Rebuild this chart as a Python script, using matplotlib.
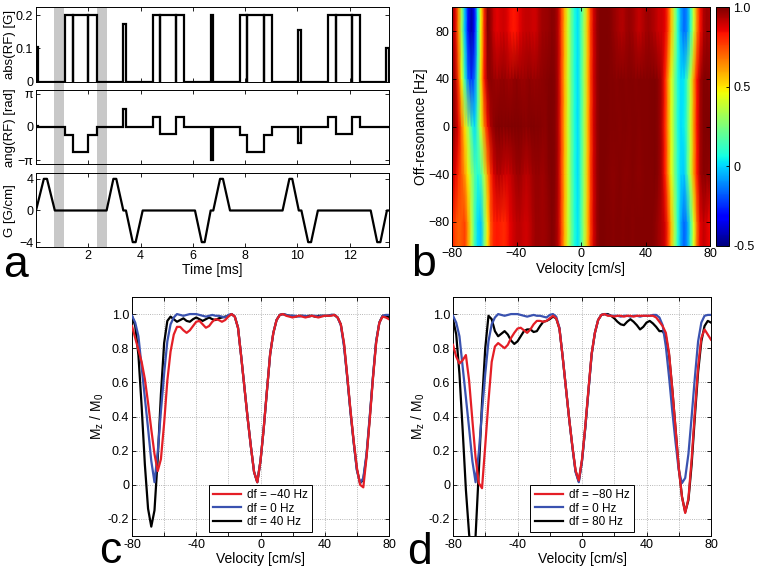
import numpy as np
import matplotlib.pyplot as plt
from matplotlib.patches import Rectangle
from matplotlib.transforms import blended_transform_factory

plt.rcParams['font.family'] = ['Liberation Sans', 'DejaVu Sans']
plt.rcParams['mathtext.default'] = 'regular'

# panel a: RF pulses (ms, G, phase in units of pi) and gradient breakpoints
rf_start = [0.00, 1.12, 1.40, 2.00, 3.34, 4.46, 4.74, 5.34, 6.68, 7.80, 8.08, 8.72,
            10.03, 11.18, 11.47, 12.07, 13.40]
rf_end = [0.06, 1.40, 2.00, 2.32, 3.44, 4.74, 5.34, 5.66, 6.78, 8.08, 8.72, 9.04,
          10.13, 11.47, 12.07, 12.39, 13.50]
rf_amp = [0.105, 0.2, 0.202, 0.2, 0.175, 0.2, 0.202, 0.2, 0.2, 0.2, 0.202, 0.2,
          0.157, 0.2, 0.202, 0.2, 0.10]
rf_phase = [0.03, -0.24, -0.75, -0.24, 0.55, 0.31, -0.22, 0.31, -1.0, -0.24, -0.75, -0.24,
            -0.47, 0.31, -0.22, 0.31, 0.0]
grad_t = [0.0, 0.30, 0.42, 0.72, 2.70, 2.96, 3.07, 3.34, 3.44, 3.70, 3.81, 4.08,
          6.08, 6.34, 6.45, 6.68, 6.78, 7.04, 7.15, 7.42, 9.43, 9.69, 9.80, 10.05,
          10.15, 10.41, 10.52, 10.78, 12.80, 13.05, 13.17, 13.42, 13.50]
grad_g = [0, 4, 4, 0, 0, 4, 4, 0, 0, -4, -4, 0, 0, -4, -4, 0, 0, 4, 4, 0, 0, 4, 4, 0,
          0, -4, -4, 0, 0, -4, -4, 0, 0]
bands = [(0.70, 1.07), (2.35, 2.72)]
t_end = 13.5

# panels b-d: Mz/M0 versus velocity for several off-resonances
vel = [-80, -78, -76, -74, -72, -70, -68, -66, -64, -62,
       -60, -58, -56, -54, -52, -50, -48, -46, -44, -42,
       -40, -38, -36, -34, -32, -30, -28, -26, -24, -22,
       -20, -18, -16, -14, -12, -10, -8, -6, -4, -2,
       0, 2, 4, 6, 8, 10, 12, 14, 16, 18,
       20, 22, 24, 26, 28, 30, 32, 34, 36, 38,
       40, 42, 44, 46, 48, 50, 52, 54, 56, 58,
       60, 62, 64, 66, 68, 70, 72, 74, 76, 78, 80]

mz_0 = [0.99, 0.95, 0.87, 0.69, 0.51, 0.33, 0.14, 0.015, 0.19, 0.43,
        0.65, 0.84, 0.94, 0.98, 1.0, 0.995, 0.99, 0.995, 1.0, 1.0,
        1.0, 0.995, 0.99, 0.985, 0.99, 0.995, 0.99, 0.99, 0.985, 0.98,
        0.995, 1.0, 0.985, 0.92, 0.75, 0.57, 0.39, 0.225, 0.075, 0.015,
        0.14, 0.33, 0.55, 0.765, 0.89, 0.965, 0.995, 1.0, 0.995, 0.99,
        0.99, 0.99, 0.985, 0.99, 0.99, 0.985, 0.99, 0.99, 0.985, 0.99,
        0.99, 0.99, 0.995, 0.995, 0.98, 0.935, 0.81, 0.63, 0.43, 0.25,
        0.085, 0.01, 0.04, 0.18, 0.40, 0.63, 0.84, 0.95, 0.99, 0.995, 0.995]

mz_p40 = [0.99, 0.93, 0.76, 0.46, 0.12, -0.14, -0.245, -0.15, 0.15, 0.53,
          0.83, 0.96, 0.985, 0.97, 0.955, 0.965, 0.975, 0.96, 0.955, 0.97,
          0.98, 0.97, 0.96, 0.97, 0.98, 0.97, 0.965, 0.975, 0.98, 0.985,
          0.99, 1.0, 0.985, 0.92, 0.75, 0.57, 0.39, 0.225, 0.075, 0.015,
          0.14, 0.33, 0.55, 0.765, 0.89, 0.965, 0.995, 1.0, 0.995, 0.99,
          0.99, 0.985, 0.99, 0.99, 0.985, 0.99, 0.99, 0.985, 0.99, 0.99,
          0.99, 0.99, 0.995, 0.995, 0.98, 0.94, 0.82, 0.63, 0.43, 0.25,
          0.09, 0.01, 0.03, 0.17, 0.39, 0.63, 0.84, 0.95, 0.99, 0.99, 0.98]

mz_m40 = [0.93, 0.86, 0.79, 0.72, 0.62, 0.48, 0.325, 0.18, 0.08, 0.15,
          0.36, 0.61, 0.78, 0.88, 0.925, 0.925, 0.905, 0.89, 0.905, 0.93,
          0.955, 0.96, 0.94, 0.92, 0.93, 0.955, 0.97, 0.965, 0.955, 0.965,
          0.985, 1.0, 0.985, 0.92, 0.75, 0.57, 0.39, 0.225, 0.075, 0.015,
          0.14, 0.33, 0.55, 0.765, 0.89, 0.965, 0.995, 1.0, 0.99, 0.985,
          0.98, 0.985, 0.99, 0.985, 0.98, 0.985, 0.99, 0.985, 0.98, 0.985,
          0.99, 0.99, 0.99, 0.995, 0.98, 0.94, 0.83, 0.64, 0.44, 0.26,
          0.10, 0.0, -0.015, 0.16, 0.38, 0.62, 0.83, 0.95, 0.985, 0.98, 0.97]

mz_m80 = [0.82, 0.75, 0.71, 0.73, 0.76, 0.61, 0.38, 0.16, 0.01, -0.02,
          0.23, 0.49, 0.72, 0.81, 0.83, 0.815, 0.80, 0.82, 0.86, 0.89,
          0.915, 0.92, 0.905, 0.89, 0.91, 0.94, 0.96, 0.96, 0.955, 0.96,
          0.975, 0.99, 0.975, 0.915, 0.75, 0.57, 0.39, 0.23, 0.085, 0.025,
          0.15, 0.34, 0.56, 0.77, 0.89, 0.965, 0.995, 1.0, 0.99, 0.99,
          0.985, 0.99, 0.99, 0.985, 0.99, 0.99, 0.985, 0.99, 0.99, 0.99,
          0.99, 0.99, 0.99, 0.98, 0.955, 0.93, 0.89, 0.77, 0.56, 0.33,
          0.10, -0.07, -0.165, -0.08, 0.15, 0.43, 0.69, 0.86, 0.91, 0.88, 0.85]

mz_p80 = [0.97, 0.88, 0.65, 0.32, -0.03, -0.29, -0.45, -0.30, 0.08, 0.48,
          0.80, 0.99, 0.97, 0.90, 0.87, 0.885, 0.90, 0.88, 0.845, 0.825,
          0.84, 0.87, 0.90, 0.91, 0.91, 0.895, 0.90, 0.93, 0.955, 0.96,
          0.97, 0.985, 0.975, 0.915, 0.75, 0.57, 0.39, 0.225, 0.08, 0.02,
          0.14, 0.33, 0.55, 0.765, 0.89, 0.965, 0.995, 1.0, 1.0, 0.99,
          0.975, 0.955, 0.94, 0.935, 0.955, 0.97, 0.955, 0.935, 0.91, 0.925,
          0.95, 0.96, 0.945, 0.925, 0.90, 0.90, 0.87, 0.76, 0.56, 0.33,
          0.10, -0.07, -0.16, -0.09, 0.12, 0.40, 0.66, 0.84, 0.93, 0.96, 0.95]

# rows of the off-resonance map (edge rows repeat the +/-80 Hz profiles)
map_df = [-100, -80, -40, 0, 40, 80, 100]
map_rows = [mz_m80, mz_m80, mz_m40, mz_0, mz_p40, mz_p80, mz_p80]

c_labels = ['df = \u221240 Hz', 'df = 0 Hz', 'df = 40 Hz']
d_labels = ['df = \u221280 Hz', 'df = 0 Hz', 'df = 80 Hz']

RED, BLUE, BLACK = '#e41e26', '#3a52b0', 'black'
W, H = 762, 568
TICK, LAB = 9, 10


def box(l, t, r, b):
    return [l / W, 1 - b / H, (r - l) / W, (b - t) / H]


def style(ax):
    ax.tick_params(direction='in', top=True, right=True, length=3, width=0.6,
                   labelsize=TICK, pad=2)
    for s in ax.spines.values():
        s.set_linewidth(0.7)


def amp_path():
    t, y = [0.0], [0.0]
    for s, e, a in zip(rf_start, rf_end, rf_amp):
        t += [s, s, e, e]
        y += [0, a, a, 0]
    t.append(t_end)
    y.append(0)
    return t, y


def phase_path():
    t, y = [0.0], [0.0]
    prev = None
    for s, e, p in zip(rf_start, rf_end, rf_phase):
        p = p * np.pi
        if prev is not None and abs(s - prev) < 1e-9:
            t.pop(); y.pop()
            t += [s, e, e]
            y += [p, p, 0]
        else:
            t += [s, s, e, e]
            y += [0, p, p, 0]
        prev = e
    t.append(t_end)
    y.append(0)
    return t, y


fig = plt.figure(figsize=(W / 100, H / 100), dpi=100)

# ---- panel a ----
ax1 = fig.add_axes(box(36, 7.3, 389, 81.7), facecolor='none')
ax2 = fig.add_axes(box(36, 90, 389, 164.3), facecolor='none')
ax3 = fig.add_axes(box(36, 173.3, 389, 247.3), facecolor='none')

t, y = amp_path()
ax1.plot(t, y, color='k', lw=1.6, solid_joinstyle='miter')
ax1.set_ylim(0, 0.224)
ax1.set_yticks([0, 0.1, 0.2], ['0', '0.1', '0.2'])
ax1.set_ylabel('abs(RF) [G]', fontsize=9.5)

t, y = phase_path()
ax2.plot(t, y, color='k', lw=1.6, solid_joinstyle='miter')
ax2.set_ylim(-3.55, 3.52)
ax2.set_yticks([-np.pi, 0, np.pi], ['\u2212\u03c0', '0', '\u03c0'])
ax2.set_ylabel('ang(RF) [rad]', fontsize=9.5)

ax3.plot(grad_t, grad_g, color='k', lw=1.6)
ax3.set_ylim(-4.65, 4.7)
ax3.set_yticks([-4, 0, 4], ['\u22124', '0', '4'])
ax3.set_ylabel('G [G/cm]', fontsize=9.5)
ax3.set_xlabel('Time [ms]', fontsize=LAB, labelpad=1)

for ax in (ax1, ax2, ax3):
    ax.set_xlim(0, t_end)
    ax.set_xticks([2, 4, 6, 8, 10, 12])
    style(ax)
    ax.yaxis.set_label_coords(-0.058, 0.5)
    if ax is not ax3:
        ax.tick_params(labelbottom=False)

# grey bands across the three traces
y0 = 1 - 247.3 / H
hgt = (247.3 - 7.3) / H
trans = blended_transform_factory(ax1.transData, fig.transFigure)
for b0, b1 in bands:
    fig.add_artist(Rectangle((b0, y0), b1 - b0, hgt, transform=trans,
                             facecolor='#c8c8c8', edgecolor='none', zorder=-1))

# ---- panel b ----
axb = fig.add_axes(box(452, 7.3, 710, 245.7))
pcm = axb.pcolormesh(vel, map_df, np.array(map_rows), shading='gouraud',
                     cmap='jet', vmin=-0.5, vmax=1.0)
axb.set_xlim(-80, 80)
axb.set_ylim(-100, 100)
axb.set_xticks([-80, -40, 0, 40, 80])
axb.set_yticks([-80, -40, 0, 40, 80])
axb.set_xlabel('Velocity [cm/s]', fontsize=LAB, labelpad=1)
axb.set_ylabel('Off-resonance [Hz]', fontsize=LAB, labelpad=0)
style(axb)

cax = fig.add_axes(box(716, 7.3, 729, 245.7))
cb = fig.colorbar(pcm, cax=cax, ticks=[-0.5, 0, 0.5, 1.0])
cb.ax.set_yticklabels(['-0.5', '0', '0.5', '1.0'])
cb.ax.tick_params(direction='in', length=2, width=0.6, labelsize=TICK, pad=3)
cb.outline.set_linewidth(0.7)

# ---- panels c and d ----
def profile(ax, red, blue, black, labels):
    hr, = ax.plot(vel, red, color=RED, lw=1.6, zorder=4)
    hb, = ax.plot(vel, blue, color=BLUE, lw=1.6, zorder=3)
    hk, = ax.plot(vel, black, color=BLACK, lw=1.6, zorder=2)
    ax.set_xlim(-80, 80)
    ax.set_ylim(-0.3, 1.1)
    ax.set_xticks(range(-80, 81, 20),
                  [str(v) if v % 40 == 0 else '' for v in range(-80, 81, 20)])
    ax.set_yticks([-0.2, 0, 0.2, 0.4, 0.6, 0.8, 1.0],
                  ['-0.2', '0', '0.2', '0.4', '0.6', '0.8', '1.0'])
    ax.grid(True, ls=':', lw=0.6, color='#a0a0a0')
    ax.set_xlabel('Velocity [cm/s]', fontsize=LAB, labelpad=1)
    ax.set_ylabel('M$_z$ / M$_0$', fontsize=LAB, labelpad=1)
    style(ax)
    leg = ax.legend([hr, hb, hk], labels, loc='lower center', fontsize=8.5,
                    fancybox=False, framealpha=1, edgecolor='black',
                    handlelength=2.4, labelspacing=0.15, borderpad=0.35,
                    borderaxespad=0.3, handletextpad=0.5)
    leg.get_frame().set_linewidth(0.7)


axc = fig.add_axes(box(132, 297, 389, 536))
profile(axc, mz_m40, mz_0, mz_p40, c_labels)
axd = fig.add_axes(box(453, 297, 711, 536))
profile(axd, mz_m80, mz_0, mz_p80, d_labels)

# panel letters
for ch, x, yb in [('a', 3, 277), ('b', 411, 276), ('c', 99, 563), ('d', 407, 564)]:
    fig.text(x / W, 1 - yb / H, ch, fontsize=32, ha='left', va='baseline')

fig.savefig('out.png', dpi=100)
